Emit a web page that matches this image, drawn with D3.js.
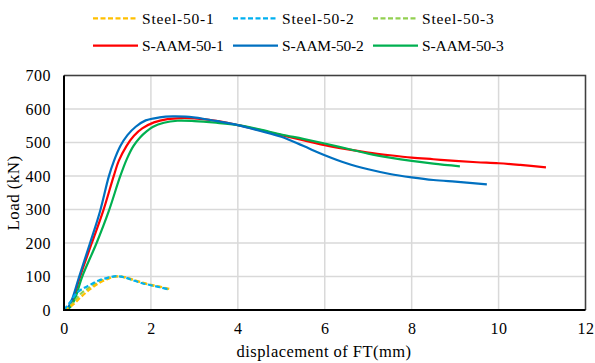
<!DOCTYPE html>
<html><head><meta charset="utf-8">
<script src="https://cdn.jsdelivr.net/npm/d3@7"></script>
<style>body{margin:0;background:#fff}svg{display:block}</style>
</head><body><svg id="c" width="595" height="363"></svg>
<script>
const xTicks = [0,2,4,6,8,10,12];
const yTicks = [0,100,200,300,400,500,600,700];
const seriesNames = ["Steel-50-1","Steel-50-2","Steel-50-3","S-AAM-50-1","S-AAM-50-2","S-AAM-50-3"];
const steel1 = [[0,0],[0.2,15],[0.4,40],[0.6,62],[0.8,80],[1.0,92],[1.2,100],[1.4,98],[1.6,90],[1.8,82],[2.0,75],[2.2,70],[2.45,62]];
const steel2 = [[0,0],[0.15,25],[0.3,52],[0.45,65],[0.6,75],[0.8,88],[1.0,96],[1.2,101],[1.4,97],[1.6,88],[1.8,80],[2.0,74],[2.2,68],[2.42,61]];
const steel3 = [[0,0],[0.2,20],[0.4,50],[0.6,68],[0.8,84],[1.0,95],[1.2,100],[1.4,97],[1.6,89],[1.8,81],[2.0,74],[2.2,69],[2.4,62]];
const saam1 = [[0,0],[0.1,6],[0.2,28],[0.37,100],[0.64,200],[0.9,295],[1.14,398],[1.26,445],[1.44,490],[1.61,520],[1.8,542],[2.07,560],[2.38,570],[2.7,573],[3.0,572],[3.5,565],[4,552],[4.5,537],[5,522],[5.5,507],[6,492],[6.5,480],[7,470],[7.5,462],[8,455],[8.5,450],[9,445],[9.5,441],[10,438],[10.5,433],[11.09,426]];
const saam2 = [[0,0],[0.08,6],[0.18,30],[0.35,100],[0.6,200],[0.83,295],[1.03,398],[1.15,445],[1.3,490],[1.46,522],[1.65,547],[1.88,566],[2.2,575],[2.5,578],[2.8,577],[3.2,571],[3.6,562],[4,552],[4.5,535],[5,517],[5.5,490],[6,462],[6.5,438],[7,420],[7.5,406],[8,396],[8.5,388],[9,383],[9.4,379],[9.73,375]];
const saam3 = [[0,0],[0.12,6],[0.24,30],[0.42,100],[0.75,200],[1.03,295],[1.29,398],[1.45,452],[1.6,490],[1.75,515],[1.9,533],[2.05,547],[2.3,559],[2.61,565],[3.0,564],[3.5,559],[4,552],[4.5,539],[5,524],[5.5,511],[6,497],[6.5,482],[7,467],[7.5,455],[8,445],[8.5,437],[9.11,429]];
const colors = ["#FFC000","#00B0F0","#92D050","#FF0000","#0070C0","#00B050"];
const dataList = [steel1,steel2,steel3,saam1,saam2,saam3];
const FONT = "Liberation Serif";

const svg = d3.select("#c");
const L=64,R=585.5,T=75.5,B=310;
const x = d3.scaleLinear().domain([0,12]).range([L,R]);
const y = d3.scaleLinear().domain([0,700]).range([B,T]);

svg.append("g").selectAll("line").data(yTicks).join("line")
  .attr("x1",L).attr("x2",R).attr("y1",d=>y(d)).attr("y2",d=>y(d))
  .attr("stroke","#d9d9d9").attr("stroke-width",1.5);
svg.append("g").selectAll("line").data(xTicks).join("line")
  .attr("y1",T).attr("y2",B).attr("x1",d=>x(d)).attr("x2",d=>x(d))
  .attr("stroke","#d9d9d9").attr("stroke-width",1.5);
svg.append("path").attr("d",`M${L},${T}H${R}V${B}`).attr("fill","none").attr("stroke","#404040").attr("stroke-width",1.5);

const line = d3.line().x(d=>x(d[0])).y(d=>y(d[1])).curve(d3.curveCatmullRom.alpha(0.5));
const order = [3,5,4,2,0,1];
order.forEach(i=>{
  svg.append("path").datum(dataList[i]).attr("d",line).attr("fill","none")
    .attr("stroke",colors[i]).attr("stroke-width",2.2)
    .attr("stroke-dasharray", i<3 ? "5,2.5" : null);
});

svg.append("path").attr("d",`M${L},${T}V${B}H${R}`).attr("fill","none").attr("stroke","#000").attr("stroke-width",2);

const xa = d3.axisBottom(x).tickValues(xTicks).tickSize(0).tickPadding(13);
const gx = svg.append("g").attr("transform",`translate(0,${B})`).call(xa).attr("font-family",FONT).attr("font-size",16);
gx.select(".domain").remove();
gx.selectAll("text").attr("letter-spacing",0.5);
const ya = d3.axisLeft(y).tickValues(yTicks).tickSize(0).tickPadding(13);
const gy = svg.append("g").attr("transform",`translate(${L},0)`).call(ya).attr("font-family",FONT).attr("font-size",16);
gy.select(".domain").remove();
gy.selectAll("text").attr("letter-spacing",0.5);

svg.append("text").attr("x",324).attr("y",357).attr("text-anchor","middle").attr("font-size",16.5).attr("letter-spacing",0.45).attr("font-family",FONT).text("displacement of FT(mm)");
svg.append("text").attr("transform","translate(19,193) rotate(-90)").attr("text-anchor","middle").attr("font-size",17).attr("letter-spacing",0.4).attr("font-family",FONT).text("Load (kN)");

const legX = [93,233,373];
const legY = [18.3,45.7];
seriesNames.forEach((n,i)=>{
  const row = Math.floor(i/3);
  const cx = legX[i%3], cy = legY[row];
  svg.append("line").attr("x1",cx).attr("x2",cx+45).attr("y1",cy).attr("y2",cy)
    .attr("stroke",colors[i]).attr("stroke-width",2.2).attr("stroke-dasharray", i<3 ? "5,2.5" : null);
  svg.append("text").attr("x",cx+49).attr("y",cy).attr("dy","0.35em").attr("font-size",15.5)
    .attr("letter-spacing", row===0 ? 0.8 : -0.2).attr("font-family",FONT).text(n);
});
</script></body></html>
